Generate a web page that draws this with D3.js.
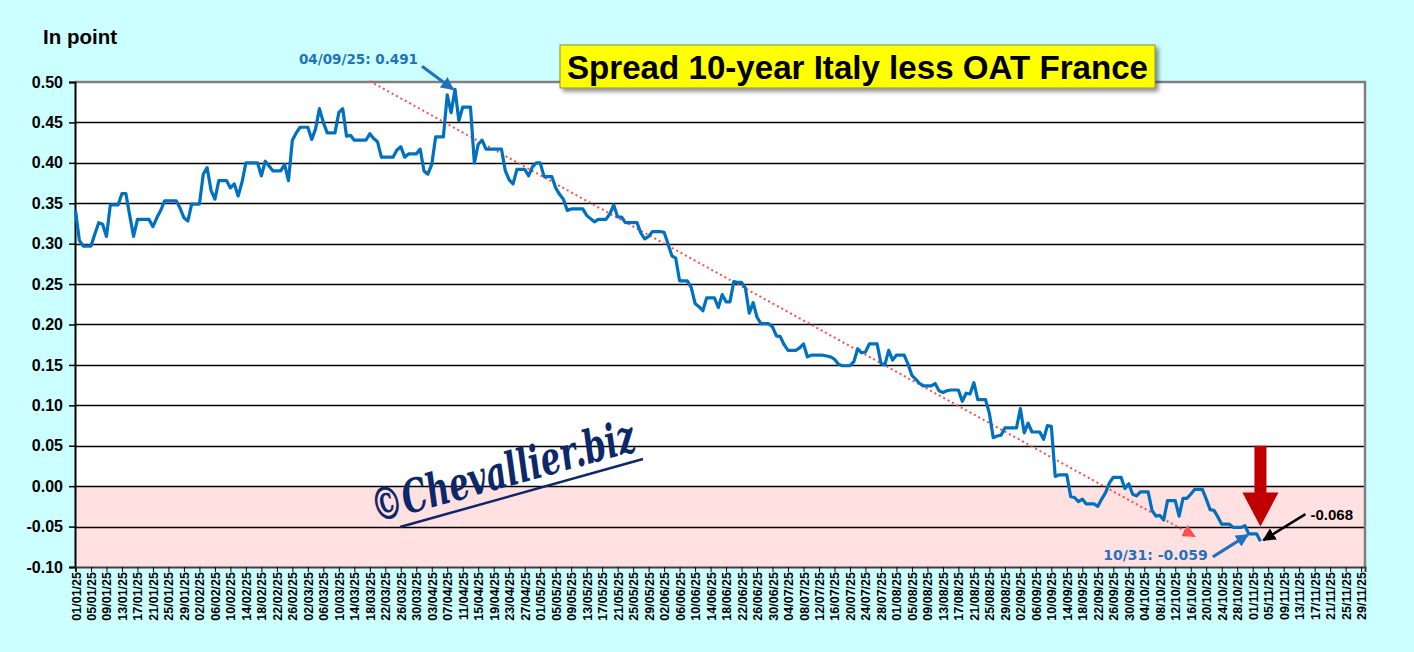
<!DOCTYPE html>
<html>
<head>
<meta charset="utf-8">
<script src="https://d3js.org/d3.v7.min.js"></script>
<style>
  body { margin: 0; background: #ccffff; }
  svg { display: block; }
</style>
</head>
<body>
<svg width="1414" height="652"></svg>
<script>
// daily spread in points, one array per month (weekend days repeat the Friday value)
var jan = [0.341, 0.304, 0.297, 0.297, 0.297, 0.312, 0.326, 0.324, 0.309, 0.348, 0.348, 0.348, 0.362, 0.362, 0.335, 0.309,
           0.330, 0.330, 0.330, 0.330, 0.321, 0.332, 0.341, 0.353, 0.353, 0.353, 0.353, 0.344, 0.332, 0.328, 0.349];
var feb = [0.349, 0.349, 0.386, 0.394, 0.366, 0.355, 0.378, 0.378, 0.378, 0.369, 0.374, 0.359, 0.376, 0.400, 0.400, 0.400,
           0.400, 0.384, 0.402, 0.396, 0.390, 0.390, 0.390, 0.398, 0.378, 0.428, 0.437, 0.444];
var mar = [0.444, 0.444, 0.429, 0.442, 0.467, 0.450, 0.437, 0.437, 0.437, 0.462, 0.467, 0.433, 0.434, 0.428, 0.428, 0.428,
           0.428, 0.436, 0.430, 0.426, 0.407, 0.407, 0.407, 0.407, 0.416, 0.420, 0.407, 0.411, 0.411, 0.411, 0.417];
var apr = [0.390, 0.386, 0.398, 0.432, 0.432, 0.432, 0.484, 0.462, 0.491, 0.452, 0.469, 0.469, 0.469, 0.400, 0.423, 0.428,
           0.417, 0.417, 0.417, 0.417, 0.417, 0.390, 0.379, 0.374, 0.392, 0.392, 0.392, 0.384, 0.395, 0.400];
var may = [0.400, 0.383, 0.383, 0.383, 0.369, 0.361, 0.355, 0.341, 0.343, 0.343, 0.343, 0.343, 0.335, 0.331, 0.327, 0.330,
           0.330, 0.330, 0.337, 0.348, 0.333, 0.333, 0.326, 0.326, 0.326, 0.326, 0.313, 0.306, 0.309, 0.315, 0.315];
var jun = [0.315, 0.314, 0.300, 0.285, 0.282, 0.254, 0.254, 0.254, 0.246, 0.226, 0.222, 0.217, 0.233, 0.233, 0.233, 0.221,
           0.237, 0.228, 0.228, 0.253, 0.252, 0.252, 0.245, 0.214, 0.227, 0.209, 0.201, 0.201, 0.201, 0.197];
var jul = [0.186, 0.185, 0.175, 0.168, 0.168, 0.168, 0.171, 0.176, 0.160, 0.162, 0.162, 0.162, 0.162, 0.161, 0.160, 0.157,
           0.151, 0.149, 0.149, 0.149, 0.154, 0.170, 0.165, 0.166, 0.176, 0.176, 0.176, 0.152, 0.150, 0.168, 0.156];
var aug = [0.162, 0.162, 0.162, 0.151, 0.137, 0.132, 0.127, 0.124, 0.124, 0.124, 0.127, 0.118, 0.116, 0.118, 0.119, 0.119,
           0.119, 0.105, 0.115, 0.114, 0.128, 0.107, 0.107, 0.107, 0.090, 0.060, 0.062, 0.063, 0.072, 0.072, 0.072];
var sep = [0.072, 0.096, 0.066, 0.078, 0.067, 0.067, 0.067, 0.058, 0.075, 0.074, 0.012, 0.014, 0.014, 0.014, -0.013, -0.014,
           -0.019, -0.016, -0.022, -0.022, -0.022, -0.025, -0.016, -0.008, 0.004, 0.011, 0.011, 0.011, -0.003, 0.003];
var oct = [-0.010, -0.012, -0.007, -0.007, -0.007, -0.030, -0.037, -0.036, -0.042, -0.018, -0.018, -0.018, -0.037, -0.015,
           -0.015, -0.010, -0.004, -0.004, -0.004, -0.016, -0.029, -0.030, -0.038, -0.047, -0.047, -0.047, -0.051, -0.051,
           -0.051, -0.049, -0.059];
var nov = [-0.059, -0.059, -0.068];

var startDate = "2025-01-01", axisEnd = "2025-11-30";
var yTicks = [0.50, 0.45, 0.40, 0.35, 0.30, 0.25, 0.20, 0.15, 0.10, 0.05, 0.00, -0.05, -0.10];
var peak = ["2025-04-09", 0.491];
var lastOct = ["2025-10-31", -0.059];
var lastPoint = ["2025-11-03", -0.068];
var trend = [["2025-03-18", 0.501], ["2025-10-17", -0.062]];

var SANS = "'Liberation Sans', Arial, sans-serif";
var parse = d3.utcParse("%Y-%m-%d");
var start = parse(startDate);
var data = [].concat(jan, feb, mar, apr, may, jun, jul, aug, sep, oct, nov).map(function(v, i) {
    return { date: d3.utcDay.offset(start, i), value: v };
});

var svg = d3.select("svg");
var pLeft = 75, pRight = 1365, pTop = 82, pBottom = 567;

var x = d3.scaleUtc().domain([start, parse(axisEnd)]).range([pLeft + 0.5, pRight]);
var y = d3.scaleLinear().domain([-0.1, 0.5]).range([pBottom, pTop]);

// plot area: white above zero, pink below
svg.append("rect").attr("x", pLeft).attr("y", pTop).attr("width", pRight - pLeft).attr("height", pBottom - pTop)
    .attr("fill", "#ffffff");
svg.append("rect").attr("x", pLeft).attr("y", y(0)).attr("width", pRight - pLeft).attr("height", y(-0.1) - y(0))
    .attr("fill", "#ffe1e1");

// gridlines
svg.append("g").selectAll("line")
    .data(yTicks.filter(function(d) { return d < 0.5 && d > -0.1; }))
    .enter().append("line")
    .attr("x1", pLeft).attr("x2", pRight)
    .attr("y1", function(d) { return Math.round(y(d)) + 0.5; })
    .attr("y2", function(d) { return Math.round(y(d)) + 0.5; })
    .attr("stroke", "#000").attr("stroke-width", 1.3);

// border top / right
svg.append("path")
    .attr("d", "M" + pLeft + "," + pTop + "H" + pRight + "V" + pBottom)
    .attr("fill", "none").attr("stroke", "#808080").attr("stroke-width", 2.5);

// axes
var yAxis = svg.append("g").attr("transform", "translate(" + pLeft + ",0)")
    .call(d3.axisLeft(y).tickValues(yTicks).tickSize(6).tickPadding(6)
        .tickFormat(function(d) { return d.toFixed(2); }));
yAxis.select(".domain").attr("stroke", "#000").attr("stroke-width", 2);
yAxis.selectAll("line").attr("stroke", "#000").attr("stroke-width", 1.5);
yAxis.selectAll("text").attr("fill", "#000")
    .style("font-family", SANS).style("font-size", "16px").style("font-weight", "bold");

var xTicks = d3.utcDay.range(start, d3.utcDay.offset(parse(axisEnd), 1), 4);
var xAxis = svg.append("g").attr("transform", "translate(0," + pBottom + ")")
    .call(d3.axisBottom(x).tickValues(xTicks).tickSize(5).tickFormat(d3.utcFormat("%d/%m/%y")));
xAxis.select(".domain").attr("stroke", "#404040").attr("stroke-width", 2);
xAxis.selectAll("line").attr("stroke", "#000");
xAxis.selectAll("text")
    .attr("transform", "rotate(-90)")
    .attr("text-anchor", "end")
    .attr("x", -5).attr("y", 0).attr("dy", "0.36em")
    .attr("fill", "#000")
    .style("font-family", SANS).style("font-size", "12.5px").style("font-weight", "bold");

// markers
var defs = svg.append("defs");
function marker(id, color, size) {
    defs.append("marker").attr("id", id)
        .attr("viewBox", "0 0 10 10").attr("refX", 9).attr("refY", 5)
        .attr("markerWidth", size).attr("markerHeight", size)
        .attr("markerUnits", "userSpaceOnUse").attr("orient", "auto")
        .append("path").attr("d", "M0,0L10,5L0,10z").attr("fill", color);
}
marker("headBlue", "#1f72c0", 13);
marker("headBlack", "#000", 13);
marker("headRed", "#ff5050", 13);

// watermark
var wm = svg.append("g").attr("transform", "translate(376,523) rotate(-15.5)");
wm.append("text").text("©Chevallier.biz")
    .style("font-family", "'DejaVu Serif', serif").style("font-style", "italic").style("font-weight", "bold")
    .style("font-size", "46px").attr("fill", "#0d2868")
    .attr("textLength", 272).attr("lengthAdjust", "spacingAndGlyphs");
svg.append("line").attr("x1", 400).attr("y1", 527).attr("x2", 643).attr("y2", 459)
    .attr("stroke", "#0d2868").attr("stroke-width", 2.5);

// trend line
svg.append("line")
    .attr("x1", x(parse(trend[0][0]))).attr("y1", y(trend[0][1]))
    .attr("x2", x(parse(trend[1][0]))).attr("y2", y(trend[1][1]))
    .attr("stroke", "#ff4a4a").attr("stroke-width", 2).attr("stroke-dasharray", "2,3")
    .attr("marker-end", "url(#headRed)");

// the series
var line = d3.line()
    .x(function(d) { return x(d.date); })
    .y(function(d) { return y(d.value); });
svg.append("path").datum(data)
    .attr("d", line)
    .attr("fill", "none").attr("stroke", "#0070c0").attr("stroke-width", 3.2)
    .attr("stroke-linejoin", "round");

// peak annotation
var px = x(parse(peak[0])), py = y(peak[1]);
svg.append("line").attr("x1", px - 33).attr("y1", py - 23).attr("x2", px - 2).attr("y2", py)
    .attr("stroke", "#1f72c0").attr("stroke-width", 3).attr("marker-end", "url(#headBlue)");
svg.append("text").attr("x", px - 37).attr("y", py - 25)
    .attr("text-anchor", "end").attr("fill", "#1f72c0")
    .style("font-family", "'DejaVu Sans', sans-serif").style("font-weight", "bold").style("font-size", "13.5px")
    .text(d3.utcFormat("%m/%d/%y")(parse(peak[0])) + ": " + peak[1].toFixed(3));

// 10/31 annotation
var ox = x(parse(lastOct[0])), oy = y(lastOct[1]);
svg.append("line").attr("x1", ox - 36).attr("y1", oy + 23).attr("x2", ox - 1).attr("y2", oy + 1)
    .attr("stroke", "#1f72c0").attr("stroke-width", 3).attr("marker-end", "url(#headBlue)");
svg.append("text").attr("x", ox - 41).attr("y", oy + 26)
    .attr("text-anchor", "end").attr("fill", "#1f72c0")
    .style("font-family", "'DejaVu Sans', sans-serif").style("font-weight", "bold").style("font-size", "14px")
    .text(d3.utcFormat("%m/%d")(parse(lastOct[0])) + ": " + lastOct[1].toFixed(3));

// last value annotation
var lx = x(parse(lastPoint[0])), ly = y(lastPoint[1]);
svg.append("line").attr("x1", lx + 45).attr("y1", ly - 27).attr("x2", lx + 3).attr("y2", ly - 1)
    .attr("stroke", "#000").attr("stroke-width", 2.5).attr("marker-end", "url(#headBlack)");
svg.append("text").attr("x", lx + 50).attr("y", ly - 21).attr("fill", "#000")
    .style("font-family", SANS).style("font-weight", "bold").style("font-size", "15px")
    .text(lastPoint[1].toFixed(3));

// big red arrow above the last point
var ax = lx, aTop = y(0.05), aTip = y(-0.05);
svg.append("path")
    .attr("d", "M" + (ax - 6) + "," + aTop + "H" + (ax + 6) + "V" + (aTip - 34) + "H" + (ax + 18) +
        "L" + ax + "," + aTip + "L" + (ax - 18) + "," + (aTip - 34) + "H" + (ax - 6) + "Z")
    .attr("fill", "#c00000");

// titles
svg.append("text").attr("x", 43).attr("y", 44).attr("fill", "#000")
    .style("font-family", SANS).style("font-size", "20.5px").style("font-weight", "bold")
    .text("In point");

var tb = svg.append("g").attr("transform", "translate(560,45)");
defs.append("filter").attr("id", "shadow").attr("x", "-5%").attr("y", "-20%").attr("width", "115%").attr("height", "160%")
    .append("feDropShadow").attr("dx", 3).attr("dy", 3).attr("stdDeviation", 2)
    .attr("flood-color", "#000").attr("flood-opacity", 0.45);
tb.append("rect").attr("width", 595).attr("height", 43)
    .attr("fill", "#ffff00").attr("stroke", "#8a8a40").attr("stroke-width", 1)
    .attr("filter", "url(#shadow)");
tb.append("text").attr("x", 7).attr("y", 34).attr("fill", "#000")
    .style("font-family", "'Liberation Sans Narrow', 'Arial Narrow', 'Liberation Sans', Arial, sans-serif")
    .style("font-size", "34px").style("font-weight", "bold")
    .attr("textLength", 581).attr("lengthAdjust", "spacingAndGlyphs")
    .text("Spread 10-year Italy less OAT France");
</script>
</body>
</html>
